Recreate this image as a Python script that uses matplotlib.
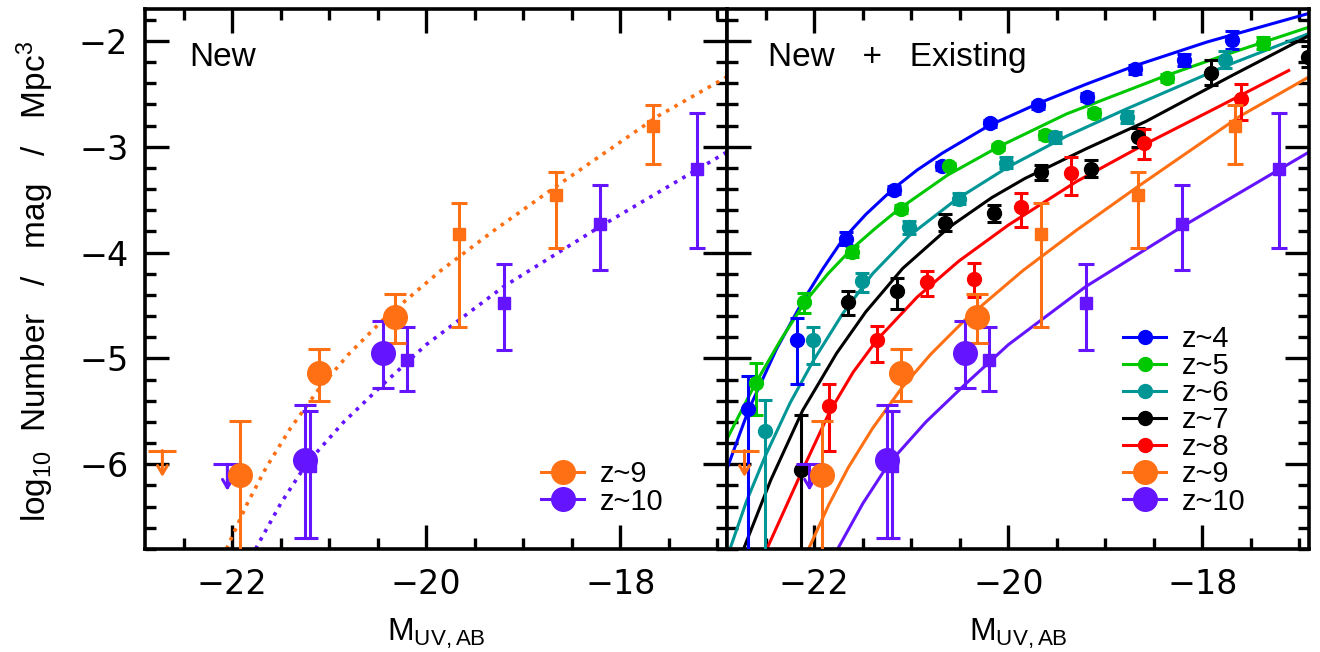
import numpy as np
import matplotlib
matplotlib.use("Agg")
import matplotlib.pyplot as plt
from matplotlib.lines import Line2D
from matplotlib.ticker import MultipleLocator

plt.rcParams['font.family'] = ['Liberation Sans', 'DejaVu Sans']
plt.rcParams['mathtext.fontset'] = 'custom'
plt.rcParams['mathtext.rm'] = 'Liberation Sans'
plt.rcParams['mathtext.it'] = 'Liberation Sans:italic'

# colours per redshift
c4, c5, c6, c7, c8 = '#0000ff', '#00c800', '#009696', '#000000', '#ff0000'
c9, c10 = '#ff7014', '#6414ff'

# ---- binned LF points (log10 phi) ----
z4_x = [-22.68, -22.18, -21.67, -21.18, -20.68, -20.19, -19.69, -19.19, -18.69, -18.19, -17.69]
z4_y = [-5.48, -4.83, -3.87, -3.41, -3.18, -2.78, -2.61, -2.53, -2.27, -2.18, -1.99]
z4_lo = [2.0, 0.41, 0.06, 0.04, 0.04, 0.03, 0.03, 0.04, 0.04, 0.06, 0.09]
z4_hi = [0.31, 0.21, 0.06, 0.04, 0.04, 0.03, 0.03, 0.04, 0.04, 0.06, 0.08]

z5_x = [-22.60, -22.11, -21.61, -21.11, -20.61, -20.11, -19.62, -19.12, -18.36, -17.37]
z5_y = [-5.23, -4.47, -3.99, -3.59, -3.18, -3.00, -2.89, -2.68, -2.35, -2.02]
z5_lo = [0.30, 0.10, 0.05, 0.04, 0.03, 0.03, 0.04, 0.04, 0.04, 0.06]
z5_hi = [0.19, 0.09, 0.05, 0.04, 0.03, 0.03, 0.04, 0.04, 0.04, 0.06]

z6_x = [-22.51, -22.01, -21.51, -21.02, -20.51, -20.02, -19.52, -18.78, -17.77]
z6_y = [-5.69, -4.83, -4.27, -3.76, -3.49, -3.15, -2.91, -2.72, -2.18]
z6_lo = [2.0, 0.22, 0.10, 0.06, 0.05, 0.05, 0.05, 0.06, 0.08]
z6_hi = [0.30, 0.13, 0.08, 0.06, 0.05, 0.05, 0.05, 0.06, 0.08]

z7_x = [-22.14, -21.65, -21.15, -20.65, -20.15, -19.66, -19.15, -18.66, -17.91, -16.91]
z7_y = [-6.05, -4.47, -4.36, -3.72, -3.63, -3.24, -3.21, -2.91, -2.30, -2.15]
z7_lo = [2.0, 0.12, 0.17, 0.08, 0.08, 0.07, 0.08, 0.09, 0.12, 0.10]
z7_hi = [0.52, 0.11, 0.12, 0.08, 0.08, 0.07, 0.08, 0.09, 0.12, 0.10]

z8_x = [-21.85, -21.35, -20.84, -20.35, -19.87, -19.35, -18.60, -17.60]
z8_y = [-5.45, -4.83, -4.28, -4.25, -3.57, -3.25, -2.96, -2.55]
z8_lo = [0.42, 0.20, 0.13, 0.17, 0.19, 0.21, 0.16, 0.20]
z8_hi = [0.21, 0.14, 0.11, 0.15, 0.13, 0.15, 0.13, 0.14]

# z~9 / z~10: new (big circles), existing (squares), upper limits
z9_new_x = [-21.92, -21.11, -20.32]
z9_new_y = [-6.10, -5.14, -4.61]
z9_new_lo = [2.0, 0.26, 0.24]
z9_new_hi = [0.51, 0.23, 0.22]
z9_old_x = [-19.66, -18.66, -17.66]
z9_old_y = [-3.82, -3.46, -2.80]
z9_old_lo = [0.88, 0.50, 0.36]
z9_old_hi = [0.29, 0.22, 0.19]
z9_lim_x = [-22.72]
z9_lim_y = [-5.87]

z10_new_x = [-21.25, -20.45]
z10_new_y = [-5.96, -4.95]
z10_new_lo = [0.74, 0.33]
z10_new_hi = [0.52, 0.30]
z10_old_x = [-21.20, -20.20, -19.20, -18.21, -17.21]
z10_old_y = [-6.02, -5.01, -4.48, -3.73, -3.21]
z10_old_lo = [0.68, 0.30, 0.44, 0.43, 0.75]
z10_old_hi = [0.52, 0.31, 0.37, 0.37, 0.53]
z10_lim_x = [-22.05]
z10_lim_y = [-6.00]
lim_len = 0.25

# ---- fitted LF curves ----
fit4_x = [-22.9, -22.68, -22.39, -22.12, -21.91, -21.71, -21.47, -21.19, -20.94, -20.68, -20.2,
          -19.69, -19.2, -18.68, -17.95, -16.9]
fit4_y = [-6.04, -5.49, -4.91, -4.46, -4.15, -3.88, -3.64, -3.40, -3.22, -3.06, -2.80,
          -2.59, -2.41, -2.23, -2.01, -1.74]
fit5_x = [-22.9, -22.61, -22.35, -22.1, -21.86, -21.62, -21.37, -21.13, -20.63, -20.1, -19.4,
          -18.38, -17.66, -16.9]
fit5_y = [-5.76, -5.24, -4.83, -4.47, -4.20, -3.97, -3.77, -3.59, -3.27, -3.00, -2.69,
          -2.33, -2.10, -1.87]
fit6_x = [-22.87, -22.7, -22.51, -22.25, -22.01, -21.71, -21.4, -21.02, -20.54, -20.0, -19.4,
          -18.8, -17.74, -16.9]
fit6_y = [-6.8, -6.35, -5.93, -5.42, -5.02, -4.58, -4.20, -3.84, -3.50, -3.19, -2.90,
          -2.65, -2.23, -1.93]
fit7_x = [-22.73, -22.45, -22.12, -21.77, -21.47, -21.09, -20.61, -20.17, -19.83, -19.2, -18.58,
          -17.7, -16.9]
fit7_y = [-6.8, -6.15, -5.49, -4.95, -4.56, -4.15, -3.76, -3.48, -3.30, -3.02, -2.76,
          -2.33, -1.95]
fit8_x = [-22.49, -22.13, -21.84, -21.6, -21.35, -20.94, -20.51, -20.0, -19.3, -18.6, -17.85, -17.11]
fit8_y = [-6.8, -6.07, -5.50, -5.13, -4.82, -4.42, -4.08, -3.74, -3.33, -2.98, -2.63, -2.28]
fit9_x = [-22.06, -21.85, -21.65, -21.4, -21.1, -20.8, -20.44, -19.85, -19.3, -18.67, -17.61, -16.9]
fit9_y = [-6.8, -6.38, -6.03, -5.66, -5.28, -4.96, -4.63, -4.17, -3.79, -3.38, -2.71, -2.34]
fit10_x = [-21.76, -21.5, -21.23, -20.85, -20.44, -20.0, -19.2, -18.2, -16.9]
fit10_y = [-6.8, -6.37, -5.99, -5.60, -5.24, -4.87, -4.32, -3.75, -3.05]

labels = ['z~4', 'z~5', 'z~6', 'z~7', 'z~8', 'z~9', 'z~10']
FS = 24
LW = 2.2


def style_axes(ax, left_labels):
    ax.set_xlim(-22.9, -16.9)
    ax.set_ylim(-6.8, -1.7)
    for s in ax.spines.values():
        s.set_linewidth(2.6)
    ax.xaxis.set_major_locator(MultipleLocator(2))
    ax.xaxis.set_minor_locator(MultipleLocator(0.5))
    ax.yaxis.set_major_locator(MultipleLocator(1))
    ax.yaxis.set_minor_locator(MultipleLocator(0.2))
    ax.tick_params(which='both', direction='in', top=True, right=True, width=2.4,
                   labelsize=FS, labelfontfamily='DejaVu Sans')
    ax.tick_params(which='major', length=17)
    ax.tick_params(which='minor', length=8)
    ax.tick_params(axis='x', which='major', pad=14)
    ax.tick_params(axis='y', which='major', pad=12, labelleft=left_labels)
    ax.set_xlabel(r'M$_{\rm UV,AB}$', fontsize=23, labelpad=11)


def small_pts(ax, x, y, lo, hi, c):
    ax.errorbar(x, y, yerr=[lo, hi], fmt='o', color=c, ms=10, lw=LW,
                capsize=5, capthick=LW, zorder=4)


def hiz_pts(ax, nx, ny, nlo, nhi, ox, oy, olo, ohi, lx, ly, c):
    ax.errorbar(ox, oy, yerr=[olo, ohi], fmt='s', color=c, ms=8, lw=LW,
                capsize=6, capthick=LW, zorder=5)
    ax.errorbar(nx, ny, yerr=[nlo, nhi], fmt='o', color=c, ms=17, lw=LW,
                capsize=8, capthick=LW, zorder=6)
    for x, y in zip(lx, ly):
        ax.plot(x, y, marker='_', ms=20, mew=LW, color=c, zorder=5)
        ax.annotate('', xy=(x, y - lim_len), xytext=(x, y),
                    arrowprops=dict(arrowstyle='->,head_length=0.6,head_width=0.35',
                                    color=c, lw=LW, shrinkA=0, shrinkB=0), zorder=5)


def add_legend(ax, handles, labs):
    ax.legend(handles, labs, loc='lower left', bbox_to_anchor=(0.646, 0.024), frameon=False,
              fontsize=21, handlelength=1.47, handletextpad=0.55, labelspacing=-0.03, borderpad=0.2)


fig = plt.figure(figsize=(13.2, 6.52), dpi=100)
ax1 = fig.add_axes([0.1098, 0.158, 0.4409, 0.828])
ax2 = fig.add_axes([0.5508, 0.158, 0.4409, 0.828])

# left panel: new z~9 / z~10 only
ax1.plot(fit9_x, fit9_y, ':', color=c9, lw=2.6, zorder=2)
ax1.plot(fit10_x, fit10_y, ':', color=c10, lw=2.6, zorder=2)
hiz_pts(ax1, z9_new_x, z9_new_y, z9_new_lo, z9_new_hi, z9_old_x, z9_old_y, z9_old_lo, z9_old_hi,
        z9_lim_x, z9_lim_y, c9)
hiz_pts(ax1, z10_new_x, z10_new_y, z10_new_lo, z10_new_hi, z10_old_x, z10_old_y, z10_old_lo, z10_old_hi,
        z10_lim_x, z10_lim_y, c10)
style_axes(ax1, True)
ax1.text(0.077, 0.91, 'New', transform=ax1.transAxes, fontsize=FS, va='center', ha='left')
h1 = [Line2D([], [], color=c9, marker='o', ms=17, lw=LW),
      Line2D([], [], color=c10, marker='o', ms=17, lw=LW)]
add_legend(ax1, h1, labels[5:])

# right panel: everything
fits = [(fit4_x, fit4_y, c4), (fit5_x, fit5_y, c5), (fit6_x, fit6_y, c6), (fit7_x, fit7_y, c7),
        (fit8_x, fit8_y, c8), (fit9_x, fit9_y, c9), (fit10_x, fit10_y, c10)]
for fx, fy, c in fits:
    ax2.plot(fx, fy, '-', color=c, lw=2.2, zorder=2)
small_pts(ax2, z4_x, z4_y, z4_lo, z4_hi, c4)
small_pts(ax2, z5_x, z5_y, z5_lo, z5_hi, c5)
small_pts(ax2, z6_x, z6_y, z6_lo, z6_hi, c6)
small_pts(ax2, z7_x, z7_y, z7_lo, z7_hi, c7)
small_pts(ax2, z8_x, z8_y, z8_lo, z8_hi, c8)
hiz_pts(ax2, z9_new_x, z9_new_y, z9_new_lo, z9_new_hi, z9_old_x, z9_old_y, z9_old_lo, z9_old_hi,
        z9_lim_x, z9_lim_y, c9)
hiz_pts(ax2, z10_new_x, z10_new_y, z10_new_lo, z10_new_hi, z10_old_x, z10_old_y, z10_old_lo, z10_old_hi,
        z10_lim_x, z10_lim_y, c10)
style_axes(ax2, False)
ax2.text(0.07, 0.91, 'New   +   Existing', transform=ax2.transAxes, fontsize=FS,
         va='center', ha='left')
h2 = [Line2D([], [], color=c, marker='o', ms=10, lw=LW) for c in [c4, c5, c6, c7, c8]]
h2 += [Line2D([], [], color=c9, marker='o', ms=17, lw=LW),
       Line2D([], [], color=c10, marker='o', ms=17, lw=LW)]
add_legend(ax2, h2, labels)

fig.text(0.027, 0.568, r'log$_{10}$  Number   /   mag   /   Mpc$^3$', rotation=90,
         fontsize=FS, ha='center', va='center')

fig.savefig('out.png', dpi=100)
